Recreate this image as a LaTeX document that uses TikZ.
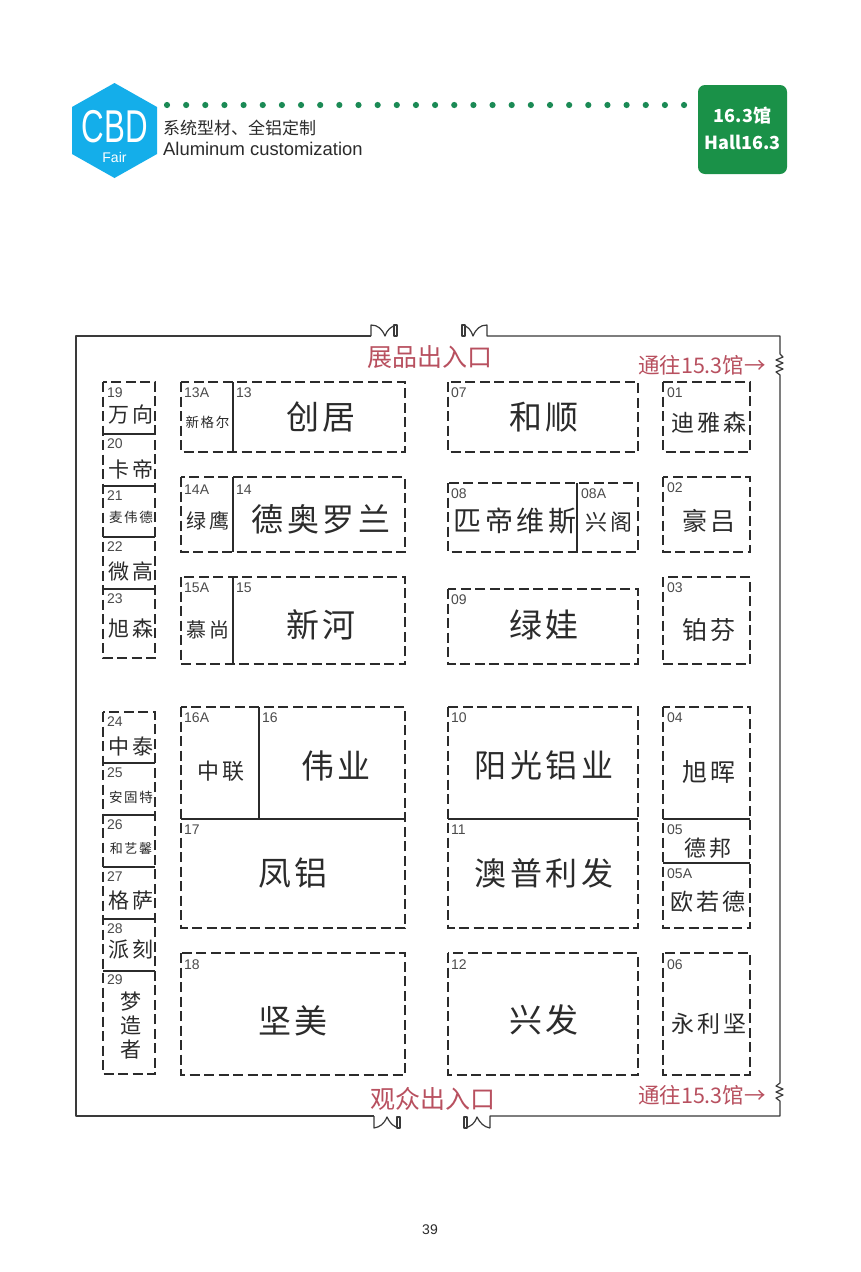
\documentclass[tikz,border=0pt]{standalone}
\usepackage{fontspec}
\setmainfont{Liberation Sans}
\newfontfamily\cjk[LetterSpace=12]{Noto Sans CJK SC}
\newfontfamily\cjkplain{Noto Sans CJK SC}
\definecolor{ink}{HTML}{2B2B2B}
\definecolor{wallc}{HTML}{3A3A3A}
\definecolor{redtxt}{HTML}{B8505F}
\definecolor{hallgreen}{HTML}{1A9148}
\definecolor{dotgreen}{HTML}{1B8A55}
\definecolor{logoblue}{HTML}{14AEEA}
\tikzset{
  boothbox/.style={draw=ink,line width=1.15pt,dash pattern=on 10pt off 4.5pt},
  divider/.style={draw=ink,line width=1.15pt},
  wall/.style={draw=wallc,line width=1.2pt,line join=round},
  numtxt/.style={anchor=west,inner sep=0pt,text=ink!85,font=\fontsize{14}{14}\selectfont},
  redlabel/.style={inner sep=0pt,text=redtxt},
  namelabel/.style={inner sep=0pt,text=ink,align=center},
}
% booth: id, x1,y1,x2,y2
\newcommand{\booth}[5]{\path[boothbox] (#2,#3) rectangle (#4,#5);}
\newcommand{\num}[3]{\node[numtxt] (n#1) at (#2,#3) {#1};}
\newcommand{\lab}[5]{\node[namelabel,font=\fontsize{#4}{#4}\cjk] (#1) at (#2,#3) {#5};}
\begin{document}
\begin{tikzpicture}[x=1pt,y=-1pt]
\useasboundingbox[fill=white] (0,0) rectangle (860,1272);
% ---- header
\path[fill=logoblue] (114.5,83) -- (157,107) -- (157,154) -- (114.5,178) -- (72,154) -- (72,107) -- cycle;
\node[inner sep=0pt,text=white,xscale=.68] (logo) at (115,127) {\fontsize{46}{46}\selectfont CBD};
\node[inner sep=0pt,text=white] (fair) at (114.5,157) {\fontsize{14}{14}\selectfont Fair};
\foreach \i in {0,...,27} {\path[fill=dotgreen] ({167+\i*19.15},105) circle (3.1);}
\node[anchor=west,inner sep=0pt,text=ink] (sub1) at (163,128) {\fontsize{17}{17}\cjkplain 系统型材、全铝定制};
\node[anchor=west,inner sep=0pt,text=ink] (sub2) at (163,149) {\fontsize{18.4}{18.4}\selectfont Aluminum customization};
\path[fill=hallgreen,rounded corners=7pt] (698,85) rectangle (787,174);
\node[inner sep=0pt,text=white] (hall1) at (742.5,116) {\fontsize{18}{18}\cjkplain\bfseries 16.3馆};
\node[inner sep=0pt,text=white] (hall2) at (742.5,142) {\fontsize{18}{18}\cjkplain\bfseries Hall16.3};
% ---- walls and doors
\path[wall] (780,352) -- (780,336) -- (487,336) -- (487,325) .. controls (480,325) and (476,329) .. (473,336) .. controls (471,330) and (468,326) .. (462,325);
\path[wall,fill=white] (462,325) rectangle (465,336);
\path[wall] (371,336) -- (76,336) -- (76,1116) -- (374,1116);
\path[wall] (371,336) -- (371,325) .. controls (378,325) and (382,329) .. (385,336) .. controls (387,330) and (391,326) .. (397,325);
\path[wall,fill=white] (394,325) rectangle (397,336);
\path[wall] (374,1116) -- (374,1128) .. controls (380,1127) and (384,1124) .. (387,1117) .. controls (390,1123) and (393,1127) .. (400,1128);
\path[wall,fill=white] (397,1117) rectangle (400,1128);
\path[wall] (490,1128) .. controls (484,1127) and (480,1123) .. (477,1117) .. controls (475,1123) and (471,1127) .. (464,1128);
\path[wall,fill=white] (464,1117) rectangle (467,1128);
\path[wall] (490,1128) -- (490,1116) -- (780,1116) -- (780,1101) -- (776,1098) -- (783,1095) -- (776,1092) -- (783,1089) -- (776,1086) -- (780,1083) -- (780,375) -- (776,372) -- (783,369) -- (776,366) -- (783,363) -- (776,360) -- (783,357) -- (780,354) -- (780,352);
% ---- red labels
\node[redlabel] (inEx) at (430,357) {\fontsize{25}{25}\cjkplain 展品出入口};
\node[redlabel] (inVis) at (433,1099) {\fontsize{25}{25}\cjkplain 观众出入口};
\node[redlabel] (to1) at (702,365) {\fontsize{21.5}{21.5}\cjkplain 通往15.3馆→};
\node[redlabel] (to2) at (702,1095) {\fontsize{21.5}{21.5}\cjkplain 通往15.3馆→};
% ---- left column
\booth{a}{103}{382}{155}{658}
\foreach \yy in {434,486,537,589} {\path[divider] (103,\yy) -- (155,\yy);}
\booth{b}{103}{712}{155}{1074}
\foreach \yy in {763,815,867,919,971} {\path[divider] (103,\yy) -- (155,\yy);}
\num{19}{107}{393}\num{20}{107}{444}\num{21}{107}{496}\num{22}{107}{547}\num{23}{107}{599}
\num{24}{107}{722}\num{25}{107}{773}\num{26}{107}{825}\num{27}{107}{877}\num{28}{107}{929}\num{29}{107}{980}
\lab{wx}{131}{415}{21}{万向}
\lab{kd}{131}{469}{21}{卡帝}
\lab{mwd}{131}{517}{13.5}{麦伟德}
\lab{wg}{131}{572}{21}{微高}
\lab{xs}{131}{629}{21}{旭森}
\lab{zt}{131}{746}{21}{中泰}
\lab{agt}{131}{797}{13.5}{安固特}
\lab{hyx}{131}{849}{13}{和艺馨}
\lab{gs}{131}{901}{21}{格萨}
\lab{pk}{131}{950}{21}{派刻}
\lab{mzz}{131}{1026}{21}{梦\\[3pt]造\\[3pt]者}
% ---- second column
\booth{13}{181}{382}{405}{452}\path[divider] (233,382) -- (233,452);
\booth{14}{181}{477}{405}{552}\path[divider] (233,477) -- (233,552);
\booth{15}{181}{577}{405}{664}\path[divider] (233,577) -- (233,664);
\booth{16}{181}{707}{405}{928}\path[divider] (259,707) -- (259,819);\path[divider] (181,819) -- (405,819);
\booth{18}{181}{953}{405}{1075}
\num{13A}{184}{393}\num{13}{236}{393}
\num{14A}{184}{490}\num{14}{236}{490}
\num{15A}{184}{588}\num{15}{236}{588}
\num{16A}{184}{718}\num{16}{262}{718}
\num{17}{184}{830}\num{18}{184}{965}
\lab{xge}{207.5}{422}{13.5}{新格尔}
\lab{cj}{321}{417}{33}{创居}
\lab{ly}{208}{521}{20}{绿鹰}
\lab{dal}{321}{519}{32}{德奥罗兰}
\lab{ms}{208}{630}{20}{慕尚}
\lab{xh}{321}{625}{33}{新河}
\lab{zl}{221}{771}{22}{中联}
\lab{wy}{336}{766}{33}{伟业}
\lab{fl}{293}{873}{33}{凤铝}
\lab{jm}{293}{1021}{33}{坚美}
% ---- third column
\booth{07}{448}{382}{638}{452}
\booth{08}{448}{483}{638}{552}\path[divider] (577,483) -- (577,552);
\booth{09}{448}{589}{638}{664}
\booth{10}{448}{707}{638}{928}\path[divider] (448,819) -- (638,819);
\booth{12}{448}{953}{638}{1075}
\num{07}{451}{393}\num{08}{451}{494}\num{08A}{581}{494}\num{09}{451}{600}
\num{10}{451}{718}\num{11}{451}{830}\num{12}{451}{965}
\lab{hs}{544}{417}{33}{和顺}
\lab{pdws}{515}{521}{28}{匹帝维斯}
\lab{xg}{609}{522}{22}{兴阁}
\lab{lw}{544}{625}{33}{绿娃}
\lab{ygly}{544}{765}{32}{阳光铝业}
\lab{apl}{544}{873}{32}{澳普利发}
\lab{xf}{544}{1020}{33}{兴发}
% ---- fourth column
\booth{01}{663}{382}{750}{452}
\booth{02}{663}{477}{750}{552}
\booth{03}{663}{577}{750}{664}
\booth{04}{663}{707}{750}{928}\path[divider] (663,819) -- (750,819);\path[divider] (663,863) -- (750,863);
\booth{06}{663}{953}{750}{1075}
\num{01}{667}{393}\num{02}{667}{488}\num{03}{667}{588}\num{04}{667}{718}\num{05}{667}{830}\num{05A}{667}{874}\num{06}{667}{965}
\lab{dys}{709}{423}{23}{迪雅森}
\lab{hl}{709}{521}{25}{豪吕}
\lab{bf}{709}{630}{25}{铂芬}
\lab{xhui}{709}{772}{25}{旭晖}
\lab{db}{708}{848}{22}{德邦}
\lab{ord}{708}{902}{23}{欧若德}
\lab{ylj}{709}{1024}{23}{永利坚}
% ---- page number
\node[inner sep=0pt,text=ink] (pg) at (430,1230) {\fontsize{14}{14}\selectfont 39};
\end{tikzpicture}
\end{document}
